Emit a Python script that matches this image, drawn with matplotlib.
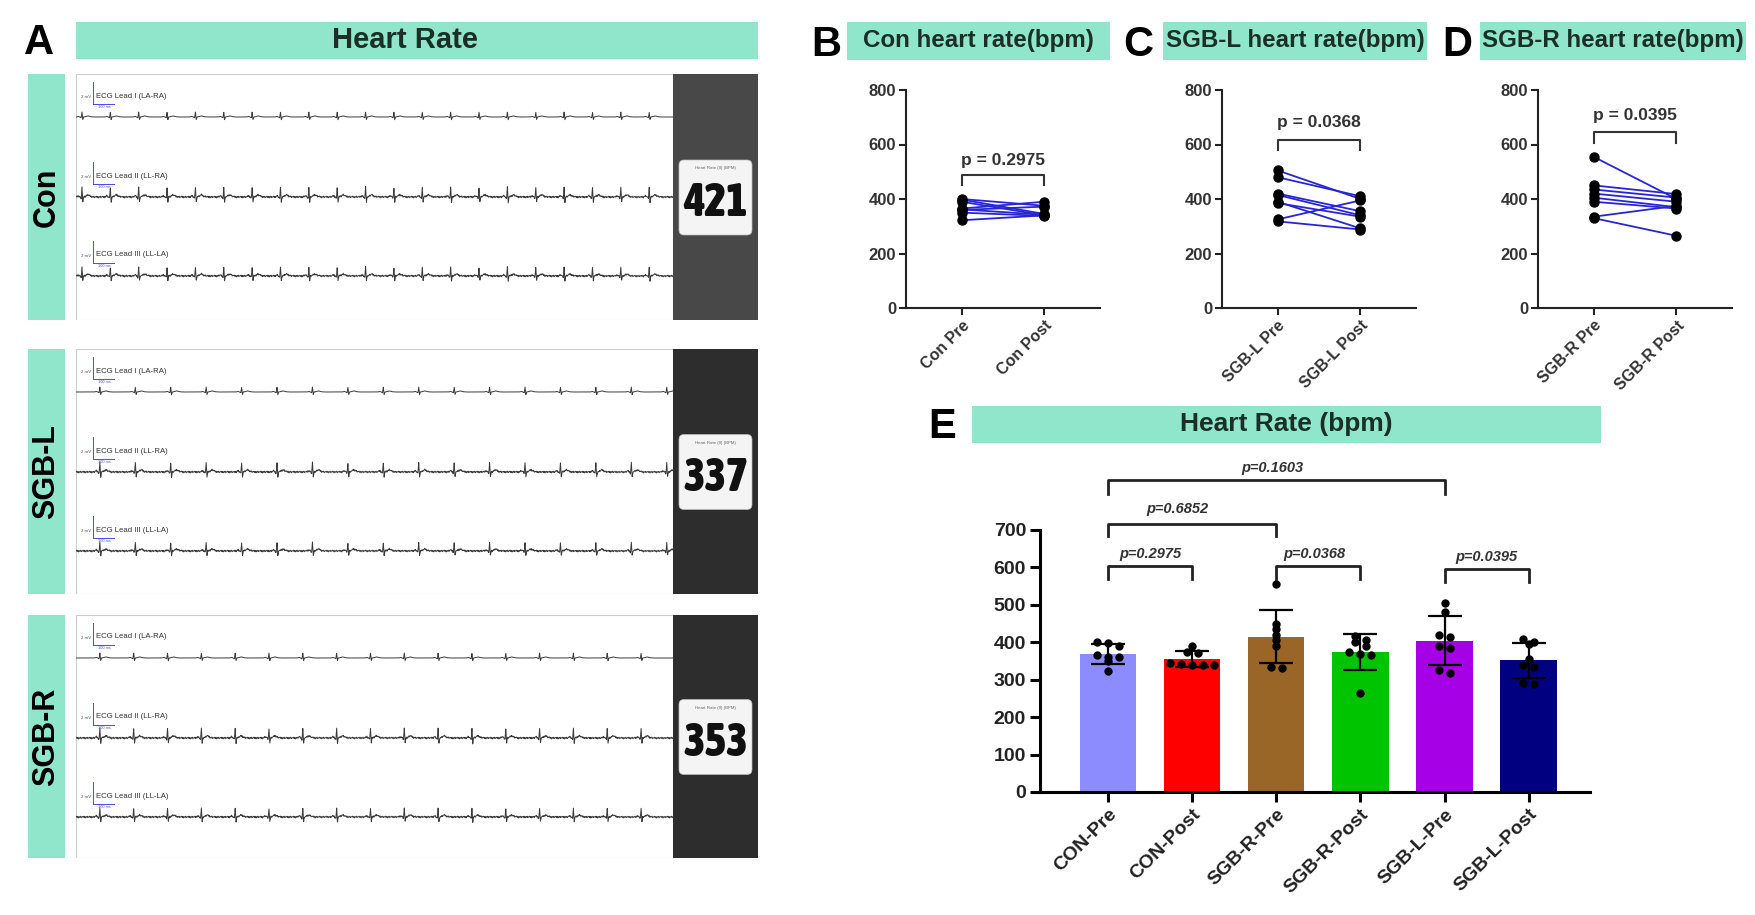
import numpy as np
import matplotlib
matplotlib.use("Agg")
import matplotlib.pyplot as plt
from matplotlib.patches import Rectangle, FancyBboxPatch
from matplotlib import font_manager
from matplotlib.font_manager import FontProperties

plt.rcParams['font.family'] = ['Liberation Sans', 'DejaVu Sans']

W, H = 1755, 915

# ---------------- data ----------------
ecg_groups = ["Con", "SGB-L", "SGB-R"]
ecg_hr = [421, 337, 353]
ecg_first_beat = [0.03, 0.12, 0.12]          # seconds
lead_names = ["ECG Lead I (LA-RA)", "ECG Lead II (LL-RA)", "ECG Lead III (LL-LA)"]

con_pre = [400, 398, 390, 365, 362, 360, 350, 322]
con_post = [375, 345, 340, 390, 342, 372, 338, 340]
sgbl_pre = [505, 480, 420, 415, 390, 385, 325, 318]
sgbl_post = [400, 410, 355, 340, 292, 335, 395, 288]
sgbr_pre = [555, 450, 435, 420, 405, 390, 335, 330]
sgbr_post = [400, 418, 405, 390, 370, 365, 375, 265]

pair_titles = ["Con heart rate(bpm)", "SGB-L heart rate(bpm)", "SGB-R heart rate(bpm)"]
pair_ticks = [["Con Pre", "Con Post"], ["SGB-L Pre", "SGB-L Post"], ["SGB-R Pre", "SGB-R Post"]]
pair_p = ["p = 0.2975", "p = 0.0368", "p = 0.0395"]
pair_pre = [con_pre, sgbl_pre, sgbr_pre]
pair_post = [con_post, sgbl_post, sgbr_post]

e_labels = ["CON-Pre", "CON-Post", "SGB-R-Pre", "SGB-R-Post", "SGB-L-Pre", "SGB-L-Post"]
e_values = [con_pre, con_post, sgbr_pre, sgbr_post, sgbl_pre, sgbl_post]
e_colors = ["#8c8cff", "#ff0000", "#9a6628", "#00c400", "#a500e6", "#000080"]
e_compare = [(0, 1, "p=0.2975"), (2, 3, "p=0.0368"), (4, 5, "p=0.0395"),
             (0, 2, "p=0.6852"), (0, 4, "p=0.1603")]

# ecg beat shape (time offset s, relative amplitude)
beat_t = [-0.028, -0.018, -0.010, -0.004, 0.0, 0.004, 0.008, 0.016, 0.030, 0.045, 0.060]
beat_v = [0.0, 0.12, 0.0, -0.15, 1.0, -0.55, 0.0, 0.05, 0.22, 0.05, 0.0]
wiggle = [0, 0.6, -0.4, 0.5, -0.7, 0.3, -0.2, 0.6, -0.5, 0.2]

# ---------------- style ----------------
MINT = "#8fe6cb"
HDR_TXT = "#1b2f27"
LINE_BLUE = "#2626d6"
CAL_BLUE = "#4a4af0"


def is_bold(w):
    if isinstance(w, str):
        return w in ("bold", "semibold", "demibold", "heavy", "black", "extra bold")
    return w >= 600


# a condensed bold face for the monitor numbers, if one is installed
num_prop = FontProperties(family="DejaVu Sans", stretch="condensed", weight="bold", size=25)
for st, sz in [("extra-condensed", 36), ("condensed", 33), ("semi-condensed", 29)]:
    hits = [f for f in font_manager.fontManager.ttflist
            if f.stretch == st and is_bold(f.weight) and f.style == "normal"
            and not f.name.startswith("DejaVu")]
    if hits:
        num_prop = FontProperties(fname=hits[0].fname, size=sz)
        break

fig = plt.figure(figsize=(W / 100, H / 100), dpi=100)


def rect(x0, y0, x1, y1):
    return [x0 / W, 1 - y1 / H, (x1 - x0) / W, (y1 - y0) / H]


def box(x0, y0, x1, y1, color=MINT):
    fig.add_artist(Rectangle((x0 / W, 1 - y1 / H), (x1 - x0) / W, (y1 - y0) / H,
                             transform=fig.transFigure, facecolor=color,
                             edgecolor="none", zorder=0))


def header(x0, y0, x1, y1, text, size=17.4, xc=None):
    box(x0, y0, x1, y1)
    if xc is None:
        xc = (x0 + x1) / 2
    fig.text(xc / W, 1 - (y0 + y1) / 2 / H, text, ha="center", va="center",
             fontsize=size, fontweight="bold", color=HDR_TXT)


def letter(x, y, s):
    fig.text(x / W, 1 - y / H, s, ha="center", va="center", fontsize=30,
             fontweight="bold", color="black")


def spread(vals, step=0.13, tol=14):
    vals = np.asarray(vals, float)
    order = np.argsort(vals)[::-1]
    offs = np.zeros(len(vals))
    groups = []
    for i in order:
        if groups and abs(vals[groups[-1][0]] - vals[i]) < tol:
            groups[-1].append(i)
        else:
            groups.append([i])
    for g in groups:
        n = len(g)
        for k, i in enumerate(g):
            offs[i] = (k - (n - 1) / 2) * step
    return offs


# ================= panel A =================
letter(39, 43, "A")
header(76, 22, 758, 59, "Heart Rate", size=21, xc=405)

ecg_tops = [74, 349, 615]
ecg_bots = [320, 594, 858]
lead_base = [43, 123, 202]
lead_amp = [5, 10, 9]
dark_cols = ["#484848", "#2d2d2d", "#2d2d2d"]
px_per_s = 597 / 3.0

for gi, g in enumerate(ecg_groups):
    top, bot = ecg_tops[gi], ecg_bots[gi]
    ph = bot - top
    # side label
    box(28, top, 65, bot)
    fig.text(46.5 / W, 1 - (top + bot) / 2 / H, g, rotation=90, ha="center", va="center",
             fontsize=22, fontweight="bold", color="black")

    ax = fig.add_axes(rect(76, top, 758, bot))
    ax.set_xlim(0, 682)
    ax.set_ylim(ph, 0)
    ax.axis("off")
    ax.add_patch(Rectangle((0, 0), 597, ph, facecolor="white", edgecolor="#cccccc", lw=0.8))
    ax.vlines(np.arange(20, 597, 20), 1, ph - 1, color="#f2f2f2", lw=0.6, zorder=0)
    ax.hlines(np.arange(20, ph, 20), 1, 596, color="#f2f2f2", lw=0.6, zorder=0)

    t = np.linspace(0, 3.0, 5000)
    beats = np.arange(ecg_first_beat[gi], 3.0, 60.0 / ecg_hr[gi])
    shape = np.zeros_like(t)
    for b in beats:
        shape += np.interp(t - b, beat_t, beat_v, left=0, right=0)
    nw = int(3.0 / 0.0033) + 2
    wig = np.interp(t, np.arange(nw) * 0.0033, np.resize(wiggle, nw))

    for li in range(3):
        base = lead_base[li]
        y = shape * lead_amp[li]
        if li > 0:
            y = y + wig * 1.4
        ax.plot(t * px_per_s, base - y, color="#3a3a3a", lw=0.7, zorder=2)
        # calibration marker and label
        ax.plot([17, 17], [base - 35, base - 13], color=CAL_BLUE, lw=0.7)
        ax.plot([17, 38], [base - 13, base - 13], color=CAL_BLUE, lw=0.7)
        ax.text(15, base - 20, "2 mV", fontsize=3.2, ha="right", va="center", color="#555555")
        ax.text(20, base - 21, lead_names[li], fontsize=5.6, ha="left", va="center",
                color="#333333", fontstretch="condensed")
        ax.text(22, base - 10, "100 ms", fontsize=2.8, ha="left", va="center", color=CAL_BLUE)

    ax.add_patch(Rectangle((597, 0), 85, ph, facecolor=dark_cols[gi], edgecolor="none"))
    ax.add_patch(FancyBboxPatch((603, ph / 2 - 37), 73, 75,
                                boxstyle="round,pad=0,rounding_size=5",
                                facecolor="#f4f4f4", edgecolor="#bbbbbb", lw=0.5))
    ax.text(639.5, ph / 2 - 29, "Heart Rate (II) (BPM)", fontsize=3.2, ha="center",
            va="center", color="#666666")
    ax.text(639.5, ph / 2 + 6, str(ecg_hr[gi]), ha="center", va="center",
            color="#111111", fontproperties=num_prop)

# ================= panels B-D =================
pair_left = [906, 1222, 1538]
pair_hdr = [(826, 847, 1110), (1138, 1163, 1427), (1457, 1480, 1746)]
pair_letters = ["B", "C", "D"]
pair_bracket = [(488, 451, 543), (616, 580, 679), (646, 605, 706)]

for k in range(3):
    lx, hx0, hx1 = pair_hdr[k]
    letter(lx, 45, pair_letters[k])
    header(hx0, 22, hx1, 60, pair_titles[k])

    x0 = pair_left[k]
    ax = fig.add_axes(rect(x0, 90, x0 + 194, 308))
    pre, post = pair_pre[k], pair_post[k]
    for a, b in zip(pre, post):
        ax.plot([0, 1], [a, b], color=LINE_BLUE, lw=1.3, zorder=2)
    ax.plot(np.zeros(len(pre)), pre, "o", color="black", ms=6.5, zorder=3)
    ax.plot(np.ones(len(post)), post, "o", color="black", ms=6.5, zorder=3)
    ax.set_xlim(-0.67, 1.67)
    ax.set_ylim(0, 800)
    ax.set_yticks([0, 200, 400, 600, 800])
    ax.set_xticks([0, 1])
    ax.set_xticklabels(pair_ticks[k], rotation=45, ha="right", rotation_mode="anchor",
                       fontsize=11.5, fontweight="bold", color="#333333")
    for lab in ax.get_yticklabels():
        lab.set_fontweight("bold")
        lab.set_fontsize(12)
        lab.set_color("#333333")
    for s in ["top", "right"]:
        ax.spines[s].set_visible(False)
    for s in ["left", "bottom"]:
        ax.spines[s].set_linewidth(1.5)
        ax.spines[s].set_color("#222222")
    ax.tick_params(width=1.5, length=5, color="#222222", pad=2)
    bt, bl, tt = pair_bracket[k]
    ax.plot([0, 0, 1, 1], [bl, bt, bt, bl], color="#333333", lw=1.5, clip_on=False)
    ax.text(0.5, tt, pair_p[k], ha="center", va="center", fontsize=12.5,
            fontweight="bold", color="#333333")

# ================= panel E =================
letter(942, 427, "E")
header(972, 406, 1601, 443, "Heart Rate (bpm)", size=19)

ax = fig.add_axes(rect(1040, 530, 1590, 792))
xpos = np.arange(len(e_labels))
means = [np.mean(v) for v in e_values]
sds = [np.std(v, ddof=1) for v in e_values]
ax.bar(xpos, means, width=0.67, color=e_colors, zorder=1)
ax.errorbar(xpos, means, yerr=sds, fmt="none", ecolor="black", elinewidth=1.6,
            capsize=12, capthick=1.6, zorder=3)
for i, v in enumerate(e_values):
    ax.plot(i + spread(v), v, "o", color="black", ms=5, zorder=4, clip_on=False)
ax.set_xlim(-0.81, 5.73)
ax.set_ylim(0, 700)
ax.set_yticks(np.arange(0, 701, 100))
ax.set_xticks(xpos)
ax.set_xticklabels(e_labels, rotation=45, ha="right", rotation_mode="anchor",
                   fontsize=14, fontweight="bold", color="#222222")
for lab in ax.get_yticklabels():
    lab.set_fontweight("bold")
    lab.set_fontsize(14)
    lab.set_color("#222222")
for s in ["top", "right"]:
    ax.spines[s].set_visible(False)
for s in ["left", "bottom"]:
    ax.spines[s].set_linewidth(2.2)
ax.tick_params(width=2.2, length=7, pad=3)

e_levels = [(604, 570, 635), (604, 570, 635), (597, 561, 628),
            (717, 684, 756), (834, 796, 865)]
e_text_shift = [0.0, -0.05, 0.0, -0.18, -0.05]
for (a, b, txt), (top, leg, ty), dx in zip(e_compare, e_levels, e_text_shift):
    ax.plot([a, a, b, b], [leg, top, top, leg], color="#222222", lw=2, clip_on=False)
    ax.text((a + b) / 2 + dx, ty, txt, ha="center", va="center", fontsize=10.5,
            fontweight="bold", fontstyle="italic", color="#333333")

fig.savefig("out.png", dpi=100, facecolor="white")
